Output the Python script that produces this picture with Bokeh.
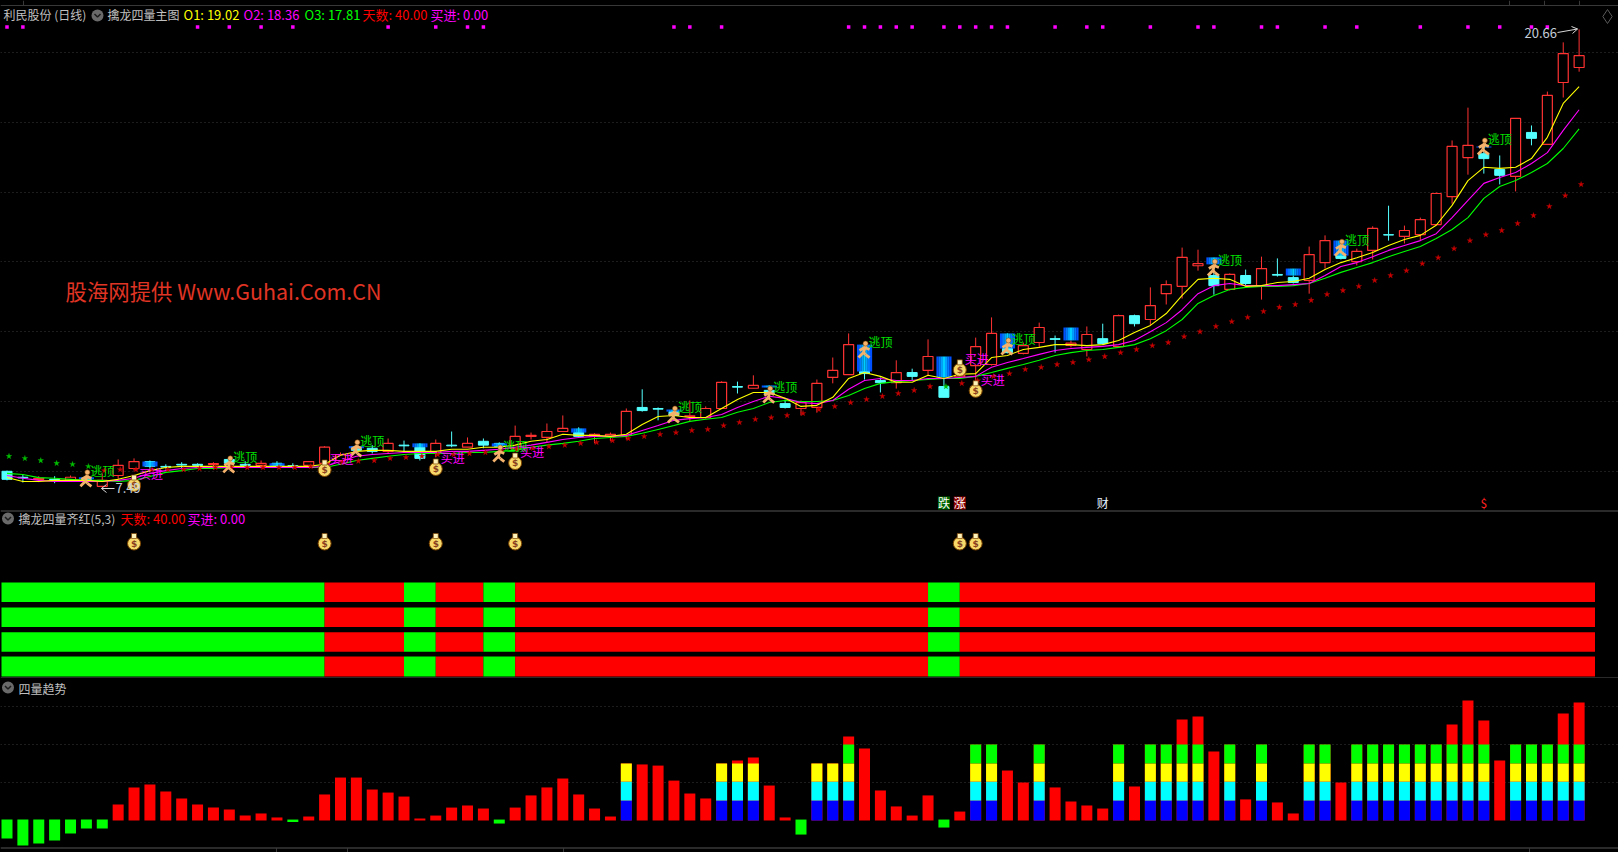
from bokeh.plotting import figure
from bokeh.layouts import column
from bokeh.document import Document
from bokeh.models import Range1d, Label, FixedTicker, CustomJS
from bokeh.core.properties import value
from bokeh.embed import file_html
from bokeh.resources import INLINE

# ---------- data ----------
open_ = [8.00,7.83,7.77,7.77,7.74,7.80,7.57,7.88,8.08,8.28,8.14,8.20,8.20,8.20,8.34,8.20,8.17,8.23,8.16,8.17,
8.23,8.31,8.66,8.66,8.57,8.75,8.69,8.51,8.75,8.69,8.86,8.80,8.65,9.00,8.97,9.14,9.11,9.00,9.00,9.03,
9.83,9.80,9.71,9.57,9.54,9.80,10.43,10.38,10.32,9.94,9.80,9.83,10.69,10.77,10.86,10.60,10.54,10.83,10.89,10.43,
10.71,11.03,11.06,11.52,11.38,11.69,11.80,11.61,11.49,11.80,11.57,12.46,12.35,13.09,13.30,13.89,13.61,13.21,13.61,13.32,
13.64,13.55,13.47,13.98,14.18,14.01,14.33,14.78,14.73,14.78,15.07,15.87,16.99,17.10,16.65,16.45,17.71,17.37,19.14,19.57]
close = [7.77,7.81,7.80,7.75,7.83,7.76,7.74,8.17,8.28,8.14,8.12,8.18,8.17,8.22,8.23,8.17,8.23,8.14,8.14,8.28,
8.69,8.48,8.60,8.57,8.80,8.73,8.37,8.80,8.73,8.80,8.75,8.71,9.00,9.03,9.14,9.23,9.00,9.06,9.06,9.72,
9.74,9.78,9.60,9.59,9.80,10.55,10.41,10.46,10.23,9.83,9.97,10.52,10.89,11.63,10.80,10.54,10.83,10.72,11.29,10.12,
10.75,11.57,11.95,11.40,11.60,12.12,11.78,11.67,11.92,11.66,12.46,12.23,12.75,13.35,14.13,13.95,13.32,13.64,13.38,13.81,
13.62,13.41,14.21,14.61,14.10,14.30,14.96,14.77,14.90,15.21,15.96,17.31,17.34,16.96,16.48,18.11,17.54,18.77,19.97,19.91]
high = [8.02,7.91,7.86,7.86,7.88,7.83,7.94,8.34,8.37,8.31,8.20,8.26,8.23,8.26,8.37,8.29,8.31,8.29,8.23,8.29,
8.72,8.54,8.72,8.75,8.94,8.88,8.80,8.91,9.14,8.97,8.94,8.83,9.31,9.11,9.37,9.60,9.26,9.09,9.11,9.80,
10.35,9.83,9.77,10.03,9.86,10.58,10.57,10.75,10.46,10.06,10.03,10.63,11.26,11.95,10.89,10.69,11.18,10.94,11.78,10.69,
10.80,11.83,12.41,11.95,11.69,12.26,11.89,11.75,12.15,12.23,12.49,12.49,13.27,13.47,14.41,14.35,13.78,13.67,13.78,14.15,
14.10,13.61,14.44,14.76,14.20,14.38,15.02,15.61,15.04,15.27,15.99,17.48,18.42,17.31,17.05,18.11,17.91,18.88,20.29,20.66]
low = [7.74,7.68,7.69,7.66,7.71,7.71,7.49,7.77,8.02,7.97,8.05,8.05,8.08,8.05,8.20,8.11,8.08,8.11,8.08,8.16,
8.20,8.26,8.54,8.51,8.51,8.54,8.31,8.40,8.69,8.69,8.66,8.63,8.60,8.91,8.83,9.14,8.97,8.80,8.86,8.91,
9.71,9.46,9.54,9.43,9.51,9.78,10.23,10.38,10.09,9.80,9.60,9.68,10.52,10.77,10.63,10.26,10.37,10.60,10.75,10.12,
10.66,10.55,11.03,11.38,11.35,11.55,11.40,11.55,11.29,11.63,11.55,12.15,12.18,12.78,12.95,13.75,13.06,13.18,13.30,12.92,
13.58,13.38,13.09,13.81,14.07,13.90,14.07,14.61,14.53,14.61,15.05,15.67,16.50,16.53,16.22,16.02,17.34,17.35,18.71,19.45]

o1 = [7.82,7.71,7.71,7.74,7.74,7.74,7.71,7.77,7.88,8.02,8.11,8.14,8.14,8.14,8.14,8.14,8.14,8.14,8.14,8.14,
8.20,8.46,8.57,8.60,8.60,8.57,8.57,8.57,8.63,8.63,8.69,8.69,8.75,8.86,8.91,9.06,9.03,9.03,9.00,9.06,
9.34,9.57,9.60,9.54,9.54,9.80,10.06,10.26,10.26,10.09,9.86,9.89,10.12,10.66,10.83,10.72,10.55,10.55,10.75,10.66,
10.78,10.80,11.26,11.32,11.49,11.55,11.63,11.63,11.60,11.63,11.75,11.98,12.18,12.52,13.04,13.50,13.53,13.50,13.30,13.32,
13.41,13.44,13.53,13.78,13.98,14.12,14.27,14.47,14.64,14.76,15.05,15.62,16.33,16.71,16.68,16.71,16.96,17.57,18.54,19.02]
o2 = [7.88,7.80,7.74,7.71,7.71,7.71,7.71,7.74,7.80,7.94,8.02,8.08,8.11,8.11,8.11,8.11,8.11,8.11,8.11,8.11,
8.14,8.28,8.43,8.48,8.51,8.54,8.54,8.54,8.57,8.57,8.60,8.63,8.69,8.75,8.83,8.91,8.97,9.00,9.00,9.03,
9.17,9.31,9.46,9.51,9.54,9.63,9.83,10.00,10.15,10.09,9.97,9.94,10.03,10.35,10.60,10.66,10.60,10.60,10.66,10.66,
10.69,10.72,10.98,11.12,11.23,11.35,11.46,11.52,11.55,11.58,11.63,11.75,12.00,12.26,12.63,13.09,13.32,13.38,13.32,13.32,
13.32,13.35,13.38,13.61,13.87,13.98,14.15,14.33,14.47,14.61,14.81,15.27,15.76,16.25,16.42,16.56,16.82,17.13,17.77,18.36]
o3 = [7.94,7.91,7.82,7.80,7.77,7.74,7.74,7.71,7.74,7.85,7.97,8.02,8.08,8.08,8.11,8.11,8.11,8.11,8.11,8.11,
8.11,8.20,8.31,8.37,8.43,8.48,8.51,8.51,8.51,8.54,8.54,8.57,8.60,8.69,8.75,8.80,8.86,8.94,8.97,9.00,
9.09,9.20,9.31,9.43,9.49,9.54,9.69,9.80,9.97,10.03,10.00,10.00,10.03,10.17,10.37,10.52,10.57,10.60,10.63,10.66,
10.66,10.72,10.83,10.95,11.06,11.18,11.32,11.40,11.46,11.49,11.55,11.63,11.80,12.03,12.35,12.81,13.04,13.21,13.27,13.30,
13.30,13.32,13.38,13.53,13.70,13.84,13.98,14.15,14.30,14.44,14.67,14.93,15.27,15.82,16.16,16.33,16.56,16.82,17.25,17.81]
stop_line = [8.43,8.37,8.31,8.23,8.20,8.14,8.02,8.05,8.05,8.05,8.05,8.05,8.08,8.11,8.11,8.11,8.11,8.11,8.11,8.14,
8.20,8.26,8.29,8.31,8.37,8.40,8.43,8.48,8.48,8.51,8.54,8.57,8.63,8.66,8.71,8.75,8.80,8.83,8.88,8.94,
9.00,9.06,9.11,9.17,9.20,9.31,9.40,9.49,9.54,9.60,9.66,9.77,9.86,9.97,10.06,10.15,10.23,10.32,10.43,10.43,
10.52,10.60,10.72,10.80,10.92,10.98,11.06,11.12,11.20,11.29,11.40,11.49,11.60,11.69,11.86,12.00,12.15,12.29,12.41,12.58,
12.70,12.78,12.90,13.07,13.18,13.30,13.47,13.61,13.75,13.95,14.12,14.38,14.61,14.78,14.90,15.10,15.33,15.59,15.90,16.22]
green_star_idx = [0,1,2,3,4,5,59]

blue_idx = [5,9,17,22,26,31,36,42,48,54,59,63,67,76,81,84,93]
blue_top = [7.83,8.28,8.23,8.72,8.80,8.80,9.23,9.77,10.46,11.63,11.29,11.95,12.12,14.13,13.81,14.61,17.31]
blue_bot = [7.77,8.14,8.14,8.66,8.69,8.71,9.11,9.71,10.40,10.86,10.69,11.52,11.75,13.93,13.61,14.18,17.28]

runner_idx = [5,14,22,31,42,48,54,63,76,84,93]
runner_price = [7.77,8.17,8.63,8.48,9.60,10.17,11.46,11.55,13.81,14.38,17.28]
bag_idx = [8,20,27,32,60,61]
bag_price = [7.65,8.08,8.11,8.28,10.95,10.35]
square_idx = [0,1,12,14,16,18,24,27,29,30,42,43,45,53,54,55,56,57,59,60,61,62,63,66,68,69,72,75,76,79,80,83,85,89,92,94,96,97]

tag_idx = [59,60,69,93]
tag_text = ["跌","涨","财","$"]
tag_bg = ["#006400","#8b0000","#000000","#000000"]
tag_fg = ["#ffffff","#ffffff","#e8f0ff","#ff2020"]

row_edges = [0,20,25,27,30,32,58,60,100]
row_colors = ["#00ff00","#ff0000","#00ff00","#ff0000","#00ff00","#ff0000","#00ff00","#ff0000"]
row_levels = [0,1,2,3]

trend = [-9.5,-13.2,-12.1,-10.5,-6.8,-4.2,-4.2,8.4,17.4,18.9,15.3,11.6,8.4,6.8,5.8,2.6,3.7,1.6,-0.8,2.1,
13.7,22.6,22.6,16.3,14.7,12.6,1.05,2.6,6.8,7.9,6.3,-1.6,6.8,13.2,17.4,22.1,13.7,6.3,2.1,30,
29.5,28.9,21,14.2,11.6,30,31.6,33.2,18.4,1.6,-7.4,30,30,44.2,37.9,15.8,7.4,2.6,13.2,-3.7,
4.7,40,40,26.3,20,40,17.4,10,7.9,6.3,40,17.9,40,40,53.2,54.7,36.3,40,11.1,40,
9.5,3.7,40,40,20,40,40,40,40,40,40,50.5,63.2,52.6,31.6,40,40,40,56.3,62.1]
stack30_idx = [39,45,46,47,51,52]
stack40_idx = [53,61,62,65,70,72,73,74,75,77,79,82,83,85,86,87,88,89,90,91,92,93,95,96,97,98,99]
stack_bounds = [0,10.5,20.5,30,40]
stack_colors = ["#0000ff","#00ffff","#ffff00","#00ff00"]

# ---------- layout constants ----------
W = 1618
STEP = 15.88
X0 = 6.5
H1, H2, H3 = 530, 148, 174
PPX = 0.028653          # price per pixel in the main pane
TOP_PRICE = 21.49
ROW_PX = 24.8
ROW_BASE = 676
TREND_PX = 1.9
TREND_BASE = 820
CJK = "Noto Sans CJK SC"
GREY = "#c0c0c0"
LINE = "#383838"


def X(px):
    return (px - X0) / STEP


def Y1(py):
    return TOP_PRICE - py * PPX


def Y2(py):
    return (ROW_BASE - py) / ROW_PX


def Y3(py):
    return (TREND_BASE - py) / TREND_PX


def pane(h, ystart, yend, grid=None):
    f = figure(width=W, height=h, x_range=Range1d(X(0), X(W)), y_range=Range1d(ystart, yend),
               toolbar_location=None, output_backend="svg", background_fill_color="black",
               border_fill_color="black", outline_line_color=None, min_border=0,
               min_border_left=0, min_border_right=0, min_border_top=0, min_border_bottom=0)
    f.xaxis.visible = False
    f.yaxis.visible = False
    f.xgrid.visible = False
    if grid:
        f.ygrid.ticker = FixedTicker(ticks=grid)
        f.ygrid.grid_line_color = "#3a3a3a"
        f.ygrid.grid_line_dash = "1 3"
        f.ygrid.grid_line_width = 1
    else:
        f.ygrid.visible = False
    return f


def label(f, h, x, y, text, color, size=13, bold=False):
    f.add_layout(Label(x=x, y=h - y, x_units="screen", y_units="screen", text=text,
                       text_color=color, text_font=CJK, text_font_size=f"{size}px",
                       text_baseline="middle", text_align="left",
                       text_font_style="bold" if bold else "normal"))


def chevron(f, px, py, Yf):
    f.scatter([X(px)], [Yf(py)], marker="circle", size=12, fill_color="#6a6a6a", line_color=None)
    f.line([X(px - 3), X(px), X(px + 3)], [Yf(py - 1.5), Yf(py + 1.5), Yf(py - 1.5)],
           line_color="#1c1c1c", line_width=1.5)


def bag(f, idx, ys, per_px):
    xs = list(idx)
    f.scatter(xs, [y - 1.5 * per_px for y in ys], marker="circle", size=13,
              fill_color="#f7d96b", line_color="#7a4300", line_width=1)
    f.scatter(xs, [y + 6 * per_px for y in ys], marker="square", size=5,
              fill_color="#fff2b8", line_color="#7a4300", line_width=0.7)
    f.text(xs, [y - 1.5 * per_px for y in ys], text=["$"] * len(xs), text_color="#8a3f1f",
           text_font=value("DejaVu Sans"), text_font_size="9px", text_font_style="bold",
           text_align="center", text_baseline="middle")


# ---------- main pane ----------
p1 = pane(H1, Y1(H1), TOP_PRICE, grid=[20, 18, 16, 14, 12, 10, 8])
n = len(open_)
idx = list(range(n))
UP, DN = "#ff3232", "#54ffff"
colors = [UP if c >= o else DN for o, c in zip(open_, close)]

p1.segment(idx, high, idx, low, line_color=colors, line_width=1)
up = [i for i in idx if colors[i] == UP]
dn = [i for i in idx if colors[i] == DN]
p1.vbar([i for i in up], width=10 / STEP, top=[close[i] for i in up], bottom=[open_[i] for i in up],
        fill_color="black", line_color=UP, line_width=1.2)
p1.vbar([i for i in dn], width=10 / STEP, top=[open_[i] for i in dn], bottom=[close[i] for i in dn],
        fill_color=DN, line_color=DN, line_width=1)

# blue gradient caps, drawn in vertical strips
strip_cols = ["#0050ff", "#0078ff", "#00a0ff", "#00d0ff", "#00a0ff", "#0078ff", "#0050ff"]
strip_w = (15 / STEP) / len(strip_cols)
for k, col in enumerate(strip_cols):
    off = -7.5 / STEP + k * strip_w
    p1.quad(left=[i + off for i in blue_idx], right=[i + off + strip_w * 1.05 for i in blue_idx],
            top=blue_top, bottom=blue_bot, fill_color=col, line_color=None)

p1.line(idx, o3, line_color="#00ff00", line_width=1.1)
p1.line(idx, o2, line_color="#ff00ff", line_width=1.1)
p1.line(idx, o1, line_color="#ffff00", line_width=1.1)

star_cols = ["#00c000" if i in green_star_idx else "#c80000" for i in idx]
p1.scatter([i + 2 / STEP for i in idx], stop_line, marker="star", size=6, fill_color=star_cols,
           line_color=star_cols, line_width=0.3)

p1.scatter(square_idx, [Y1(26.5)] * len(square_idx), marker="square", size=3.5,
           fill_color="#ff00ff", line_color=None)

# runners
limbs = [((1, -5), (-1, 2)), ((0, -3), (-5, 0)), ((0, -3), (5, -1)), ((-1, 2), (-6, 7)), ((-1, 2), (1, 4)), ((1, 4), (5, 7))]
xs_r, ys_r = [], []
for i, pr in zip(runner_idx, runner_price):
    for a, b in limbs:
        xs_r.append([i + a[0] / STEP, i + b[0] / STEP])
        ys_r.append([pr - a[1] * PPX, pr - b[1] * PPX])
p1.multi_line(xs_r, ys_r, line_color="#f4b26c", line_width=2.8)
p1.scatter([i + 1 / STEP for i in runner_idx], [pr + 7 * PPX for pr in runner_price], marker="circle",
           size=5, fill_color="#f4b26c", line_color="#7a4300", line_width=0.5)
p1.text(runner_idx, runner_price, text=["逃顶"] * len(runner_idx), x_offset=4, y_offset=-9,
        text_color="#00e000", text_font=value(CJK), text_font_size="12px",
        text_align="left", text_baseline="middle")

# money bags and buy labels
bag(p1, bag_idx, bag_price, PPX)
p1.text(bag_idx, bag_price, text=["买进"] * len(bag_idx), x_offset=5, y_offset=-10,
        text_color="#ff00ff", text_font=value(CJK), text_font_size="12px",
        text_align="left", text_baseline="middle")

# high / low callouts
p1.line([X(1557), X(1577)], [Y1(32), Y1(28.5)], line_color="#d8d8d8", line_width=1)
p1.line([X(1571), X(1577), X(1572)], [Y1(26), Y1(28.5), Y1(33)], line_color="#d8d8d8", line_width=1)
p1.line([X(101), X(114)], [Y1(488)] * 2, line_color="#d8d8d8", line_width=1)
p1.line([X(106), X(101), X(106)], [Y1(484), Y1(488), Y1(492)], line_color="#d8d8d8", line_width=1)
label(p1, H1, 1524, 32, "20.66", "#c4cdd8", 13)
label(p1, H1, 115, 487, "7.49", "#c4cdd8", 13)

# bottom tags of the main pane
p1.quad(left=[i - 6 / STEP for i in tag_idx], right=[i + 6 / STEP for i in tag_idx],
        top=[Y1(496)] * 4, bottom=[Y1(509)] * 4, fill_color=tag_bg, line_color=None)
p1.text(tag_idx, [Y1(501.5)] * 4, text=tag_text, text_color=tag_fg, text_font=value(CJK),
        text_font_size="12px", text_align="center", text_baseline="middle")

# chrome
p1.line([X(0), X(W)], [Y1(5), Y1(5)], line_color=LINE, line_width=1)
p1.segment([X(v) for v in (23, 1509, 1544, 1579)], [Y1(0)] * 4, [X(v) for v in (23, 1509, 1544, 1579)], [Y1(5)] * 4,
           line_color=LINE, line_width=1)
p1.line([X(0), X(W)], [Y1(510.5), Y1(510.5)], line_color=LINE, line_width=1.5)
p1.scatter([X(1607)], [Y1(16)], marker="diamond", size=14, fill_color=None, line_color="#5a5a5a")
chevron(p1, 97, 15, Y1)
label(p1, H1, 3, 13.5, "利民股份 (日线)", GREY, 12)
label(p1, H1, 107, 13.5, "擒龙四量主图", GREY, 12)
label(p1, H1, 183, 13.5, "O1: 19.02", "#ffff00")
label(p1, H1, 243, 13.5, "O2: 18.36", "#ff00ff")
label(p1, H1, 304, 13.5, "O3: 17.81", "#00ff00")
label(p1, H1, 362, 13.5, "天数: 40.00", "#ff0000")
label(p1, H1, 430, 13.5, "买进: 0.00", "#ff00ff")
label(p1, H1, 65, 290, "股海网提供 Www.Guhai.Com.CN", "#e03424", 21.4)

# titles of the signal pane sit in the strip above the rows
chevron(p1, 7.5, 518, Y1)
label(p1, H1, 18, 517.5, "擒龙四量齐红(5,3)", GREY, 12)
label(p1, H1, 120, 517.5, "天数: 40.00", "#ff0000")
label(p1, H1, 187, 517.5, "买进: 0.00", "#ff00ff")

# ---------- signal rows ----------
p2 = pane(H2, Y2(H1 + H2), Y2(H1))
lefts = [X(1) if e == 0 else e for e in row_edges[:-1]]
rights = row_edges[1:]
for lv in row_levels:
    h = 20 / ROW_PX if lv == 0 else 19.5 / ROW_PX
    p2.quad(left=lefts, right=rights, bottom=[lv] * len(lefts), top=[lv + h] * len(lefts),
            fill_color=row_colors, line_color=None)
bag(p2, bag_idx, [Y2(541.5)] * len(bag_idx), 1 / ROW_PX)
p2.line([X(0), X(W)], [Y2(677.5), Y2(677.5)], line_color=LINE, line_width=1.5)

# ---------- trend bars ----------
OFF3 = H1 + H2
p3 = pane(H3, Y3(OFF3 + H3), Y3(OFF3), grid=[20, 40, 60])
BW = 11 / STEP
pos = [i for i in idx if trend[i] > 0]
neg = [i for i in idx if trend[i] < 0]
p3.vbar(pos, width=BW, top=[trend[i] for i in pos], bottom=0, fill_color="#ff0000", line_color=None)
p3.vbar(neg, width=BW, top=0.5, bottom=[trend[i] for i in neg], fill_color="#00ff00", line_color=None)
for k, col in enumerate(stack_colors):
    ids = (stack30_idx + stack40_idx) if k < 3 else stack40_idx
    p3.vbar(ids, width=BW, top=stack_bounds[k + 1], bottom=stack_bounds[k], fill_color=col, line_color=None)
p3.line([X(0), X(W)], [Y3(847.5), Y3(847.5)], line_color=LINE, line_width=1.5)
for v in (276, 347, 563, 1529):
    p3.line([X(v), X(v)], [Y3(847.5), Y3(852)], line_color=LINE, line_width=1)
chevron(p3, 7.5, 687, Y3)
label(p3, H3, 18, 686.5 - OFF3 + 1, "四量趋势", GREY, 12)

# ---------- page ----------
p = column(p1, p2, p3, spacing=0)
doc = Document()
doc.add_root(p)
doc.js_on_event("document_ready", CustomJS(code="document.body.style.margin='0';document.body.style.background='#000';document.documentElement.style.overflow='hidden';"))
open("out.html", "w").write(file_html(p, INLINE))
